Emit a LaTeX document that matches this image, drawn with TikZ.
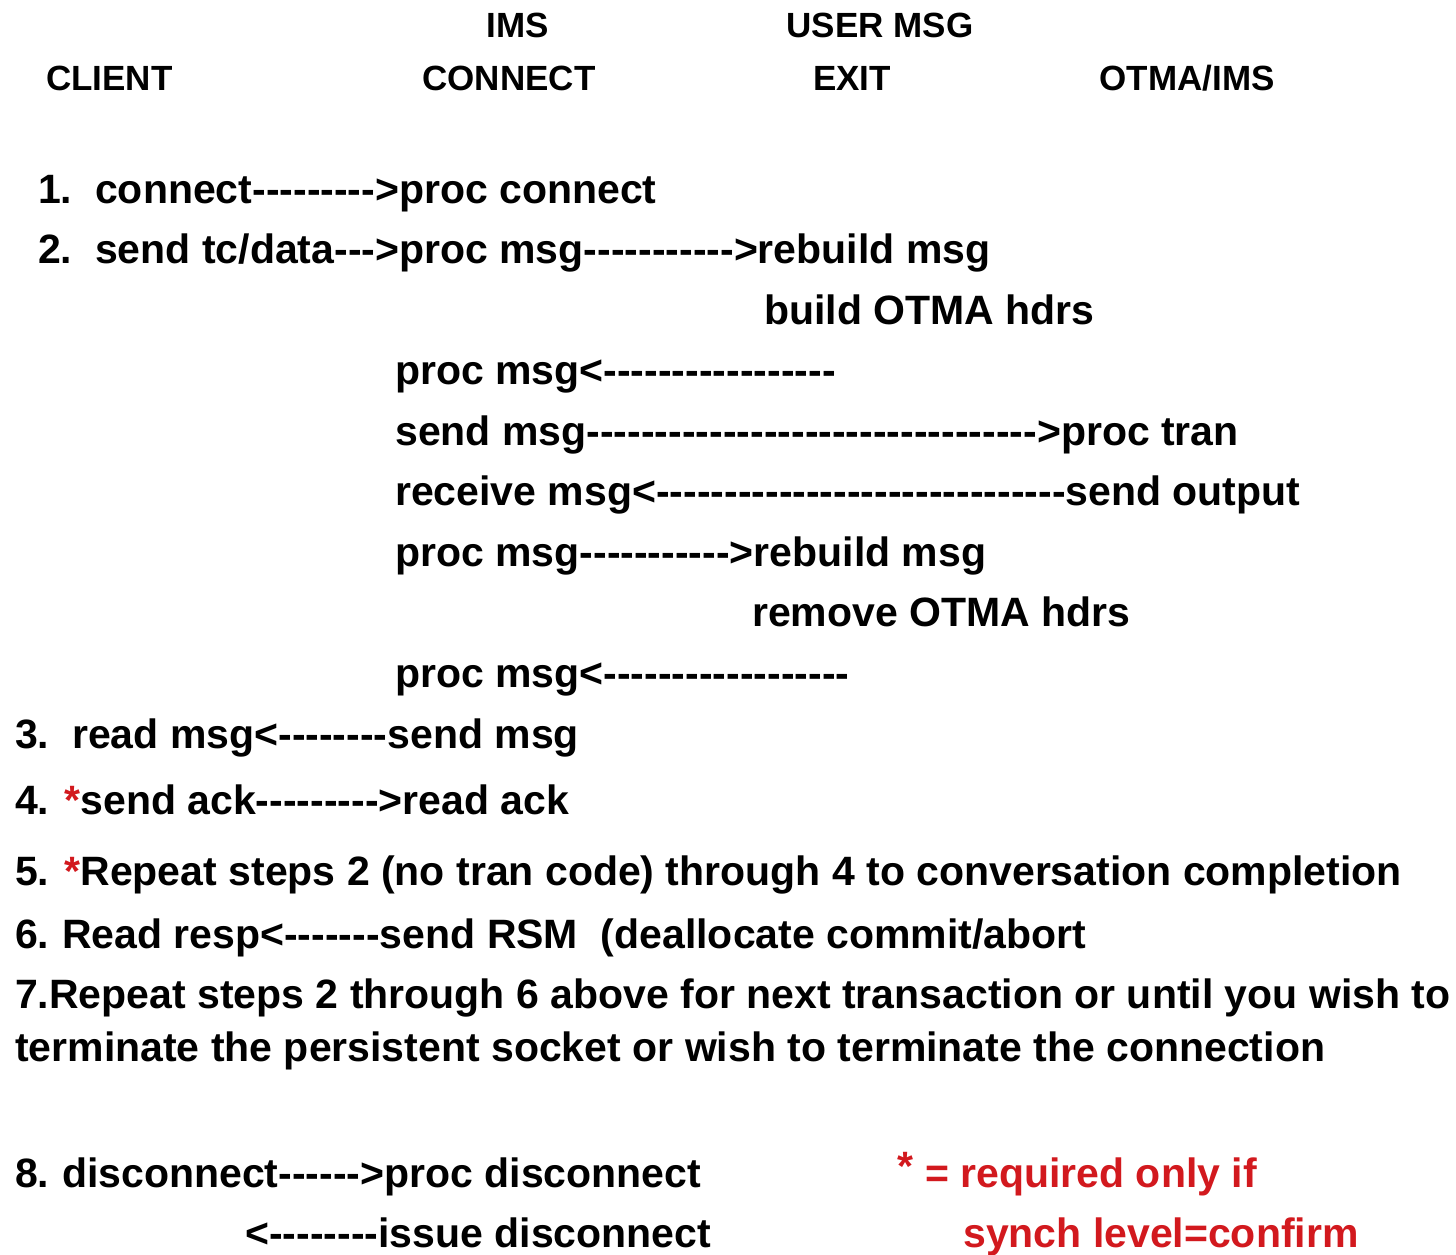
\documentclass[tikz,border=0pt]{standalone}
\usepackage{fontspec}
\setmainfont{Liberation Sans}[Ligatures=TeXOff]
\definecolor{redtxt}{RGB}{210,25,30}
\begin{document}
\begin{tikzpicture}[x=1pt,y=-1pt,
  txt/.style={anchor=base west,inner sep=0pt,font=\fontsize{41}{49}\selectfont\bfseries},
  hdr/.style={anchor=base,inner sep=0pt,font=\fontsize{35}{42}\selectfont\bfseries},
  red/.style={text=redtxt}]
\useasboundingbox (0,0) rectangle (1456,1254);
% headers
\node[hdr] (hims) at (518,37) {IMS};
\node[hdr] (huser) at (880,37) {USER MSG};
\node[hdr,anchor=base west] (hclient) at (46,90) {CLIENT};
\node[hdr] (hconnect) at (509,90) {CONNECT};
\node[hdr] (hexit) at (852,90) {EXIT};
\node[hdr] (hotma) at (1187,90) {OTMA/IMS};
% steps
\node[txt] (n1) at (38,203) {1.};
\node[txt] (l1) at (95,203) {connect--------->proc connect};
\node[txt] (n2) at (38,263) {2.};
\node[txt] (l2) at (95,263) {send tc/data--->proc msg----------->rebuild msg};
\node[txt] (l2b) at (764,324) {build OTMA hdrs};
\node[txt] (l2c) at (395,384) {proc msg<-----------------};
\node[txt] (l2d) at (395,445) {send msg--------------------------------->proc tran};
\node[txt] (l2e) at (395,505) {receive msg<------------------------------send output};
\node[txt] (l2f) at (395,566) {proc msg----------->rebuild msg};
\node[txt] (l2g) at (752,626) {remove OTMA hdrs};
\node[txt] (l2h) at (395,687) {proc msg<------------------};
\node[txt] (l3) at (15,748) {3.\ \ read msg<--------send msg};
\node[txt] (l4) at (15,814) {4. \textcolor{redtxt}{*}send ack--------->read ack};
\node[txt] (l5) at (15,885) {5. \textcolor{redtxt}{*}Repeat steps 2 (no tran code) through 4 to conversation completion};
\node[txt] (n6) at (15,948) {6.};
\node[txt] (l6) at (62,948) {Read resp<-------send RSM\ \ (deallocate commit/abort};
\node[txt] (l7) at (15,1008) {7.Repeat steps 2 through 6 above for next transaction or until you wish to};
\node[txt] (l7b) at (15,1061) {terminate the persistent socket or wish to terminate the connection};
\node[txt] (n8) at (15,1187) {8.};
\node[txt] (l8) at (62,1187) {disconnect------>proc disconnect};
\node[txt] (l8b) at (245,1247) {<--------issue disconnect};
% note
\node[txt,red] (nstar) at (897,1180) {*};
\node[txt,red] (note1) at (925,1187) {= required only if};
\node[txt,red] (note2) at (963,1247) {synch level=confirm};
\end{tikzpicture}
\end{document}
